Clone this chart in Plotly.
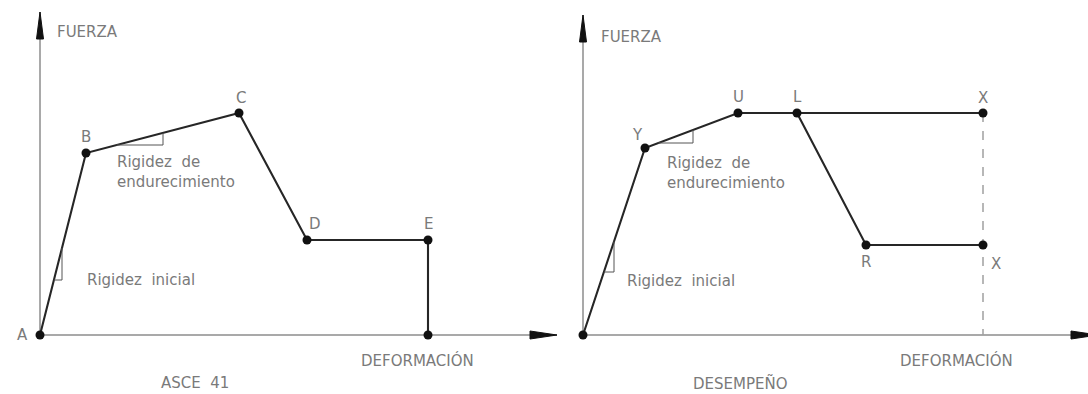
import plotly.graph_objects as go

# ---------------- data (deformation, force) ----------------
# Left panel: ASCE 41 backbone
asce_labels = ["A", "B", "C", "D", "E", ""]
asce_def = [0.0, 4.6, 19.9, 26.7, 38.8, 38.8]
asce_force = [0.0, 18.2, 22.2, 9.5, 9.5, 0.0]

# Right panel: performance (desempeño) backbone
des_labels = ["", "Y", "U", "L", "X"]
des_def = [0.0, 6.2, 15.5, 21.4, 40.0]
des_force = [0.0, 18.7, 22.2, 22.2, 22.2]
res_labels = ["R", "X"]
res_def = [28.3, 40.0]
res_force = [9.0, 9.0]

# axis extents (data units)
axis_len_x = [51.7, 51.5]
axis_len_y = [32.3, 32.0]
axis_titles = ["FUERZA", "DEFORMACIÓN"]
panel_titles = ["ASCE  41", "DESEMPEÑO"]

# ---------------- styles ----------------
CURVE = "#262626"
AXIS = "#8c8c8c"
TEXT = "#7a7a7a"
FONT = "DejaVu Sans"
FS = 15

fig = go.Figure()


def line(xs, ys, ax, color=CURVE, width=2.1, dash="solid"):
    fig.add_trace(go.Scatter(x=xs, y=ys, mode="lines", xaxis=ax[0], yaxis=ax[1],
                             line=dict(color=color, width=width, dash=dash),
                             hoverinfo="skip", showlegend=False))


def markers(xs, ys, ax):
    fig.add_trace(go.Scatter(x=xs, y=ys, mode="markers", xaxis=ax[0], yaxis=ax[1],
                             marker=dict(color="#111111", size=9),
                             hoverinfo="skip", showlegend=False, cliponaxis=False))


def arrowhead(tip, direction, ax, length, half):
    x0, y0 = tip
    if direction == "up":
        xs = [x0 - half, x0, x0 + half, x0 - half]
        ys = [y0 - length, y0, y0 - length, y0 - length]
    else:
        xs = [x0 - length, x0, x0 - length, x0 - length]
        ys = [y0 - half, y0, y0 + half, y0 - half]
    fig.add_trace(go.Scatter(x=xs, y=ys, mode="lines", fill="toself", xaxis=ax[0], yaxis=ax[1],
                             fillcolor="#111111", line=dict(color="#111111", width=1),
                             hoverinfo="skip", showlegend=False))


def slope_triangle(p0, p1, leg_x, leg_y, ax):
    # small right triangle whose hypotenuse lies on segment p0-p1
    (x0, y0), (x1, y1) = p0, p1
    s = (y1 - y0) / (x1 - x0)
    x_at = x0 + (leg_y - y0) / s
    y_at = y0 + (leg_x - x0) * s
    line([x_at, leg_x, leg_x], [leg_y, leg_y, y_at], ax, color="#555555", width=1)


def text(x, y, t, ax, xanchor="center", yanchor="middle", xshift=0, yshift=0, align="center"):
    fig.add_annotation(x=x, y=y, xref=ax[0], yref=ax[1], text=t, showarrow=False,
                       xanchor=xanchor, yanchor=yanchor, xshift=xshift, yshift=yshift,
                       align=align, font=dict(family=FONT, size=FS, color=TEXT))


panels = [("x", "y"), ("x2", "y2")]

for i, ax in enumerate(panels):
    # axes
    line([0, axis_len_x[i]], [0, 0], ax, color=AXIS, width=1.5)
    line([0, 0], [0, axis_len_y[i]], ax, color=AXIS, width=1.5)
    arrowhead((axis_len_x[i], 0), "right", ax, 2.7, 0.4)
    arrowhead((0, axis_len_y[i]), "up", ax, 2.7, 0.35)

# ---------------- left panel ----------------
L = panels[0]
line(asce_def, asce_force, L)
markers(asce_def, asce_force, L)
slope_triangle((asce_def[0], asce_force[0]), (asce_def[1], asce_force[1]), 2.2, 5.5, L)
slope_triangle((asce_def[1], asce_force[1]), (asce_def[2], asce_force[2]), 12.3, 19.0, L)
shifts_l = {"A": (-18, 0), "B": (0, 16), "C": (2, 15), "D": (8, 16), "E": (0, 16)}
for lab, xv, yv in zip(asce_labels, asce_def, asce_force):
    if lab:
        dx, dy = shifts_l[lab]
        text(xv, yv, lab, L, xshift=dx, yshift=dy)
text(1.5, 30.3, axis_titles[0], L, xanchor="left")
text(7.5, 16.3, "Rigidez  de<br>endurecimiento", L, xanchor="left", align="left")
text(4.5, 5.5, "Rigidez  inicial", L, xanchor="left")
text(37.7, -2.5, axis_titles[1], L)
text(15.5, -4.8, panel_titles[0], L)

# ---------------- right panel ----------------
R = panels[1]
line(des_def, des_force, R)
line([des_def[3]] + res_def, [des_force[3]] + res_force, R)
line([des_def[4], des_def[4]], [des_force[4], 0], R, color="#a0a0a0", width=1.5, dash="dash")
markers(des_def, des_force, R)
markers(res_def, res_force, R)
slope_triangle((des_def[0], des_force[0]), (des_def[1], des_force[1]), 3.1, 6.3, R)
slope_triangle((des_def[1], des_force[1]), (des_def[2], des_force[2]), 11.0, 19.2, R)
shifts_r = {"Y": (-8, 13), "U": (0, 16), "L": (0, 16), "X": (0, 15)}
for lab, xv, yv in zip(des_labels, des_def, des_force):
    if lab:
        dx, dy = shifts_r[lab]
        text(xv, yv, lab, R, xshift=dx, yshift=dy)
text(res_def[0], res_force[0], res_labels[0], R, yshift=-17)
text(res_def[1], res_force[1], res_labels[1], R, xshift=13, yshift=-19)
text(1.6, 29.8, axis_titles[0], R, xanchor="left")
text(8.2, 16.2, "Rigidez  de<br>endurecimiento", R, xanchor="left", align="left")
text(4.2, 5.4, "Rigidez  inicial", R, xanchor="left")
text(37.3, -2.5, axis_titles[1], R)
text(15.7, -4.8, panel_titles[1], R)

hidden = dict(visible=False, fixedrange=True)
fig.update_layout(
    width=1088, height=394,
    margin=dict(l=0, r=0, t=0, b=0),
    paper_bgcolor="white", plot_bgcolor="white",
    showlegend=False,
    xaxis=dict(domain=[0, 0.52], range=[-4.0, 52.576], **hidden),
    yaxis=dict(domain=[0, 1], range=[-5.9, 33.5], anchor="x", **hidden),
    xaxis2=dict(domain=[0.52, 1], range=[-1.724, 50.5], **hidden),
    yaxis2=dict(domain=[0, 1], range=[-5.9, 33.5], anchor="x2", **hidden),
)

fig.write_html("out.html", config={"displayModeBar": False},
               post_script="document.body.style.margin='0';document.body.style.overflow='hidden';")
